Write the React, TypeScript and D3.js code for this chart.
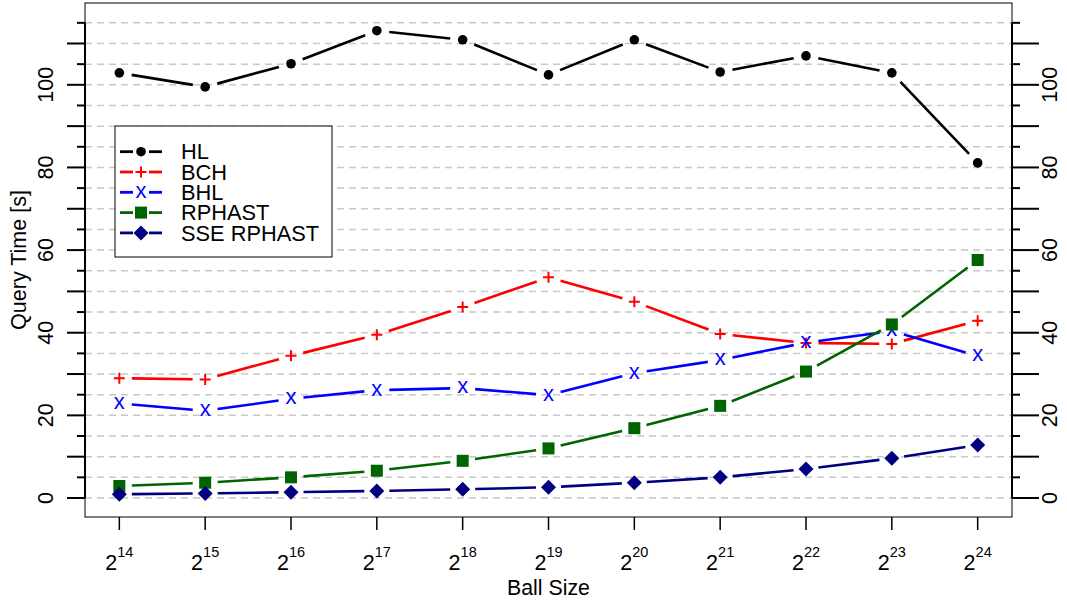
import React from "react";
import * as d3 from "d3";

const exponents = [14, 15, 16, 17, 18, 19, 20, 21, 22, 23, 24];
const hl = [102.9, 99.5, 105.1, 113.1, 110.9, 102.4, 110.9, 103.1, 107.0, 102.9, 81.1];
const bch = [29.0, 28.7, 34.4, 39.5, 46.2, 53.4, 47.5, 39.7, 37.5, 37.3, 42.9];
const bhl = [22.9, 21.1, 24.0, 26.1, 26.6, 24.9, 30.2, 33.4, 37.6, 40.4, 34.4];
const rphast = [2.9, 3.7, 5.0, 6.6, 9.0, 12.0, 16.9, 22.3, 30.6, 42.0, 57.6];
const sseRphast = [0.9, 1.1, 1.4, 1.7, 2.1, 2.6, 3.7, 5.0, 7.0, 9.6, 12.8];

const seriesNames = ["HL", "BCH", "BHL", "RPHAST", "SSE RPHAST"];
const seriesColors = ["#000000", "#ff0000", "#0000ff", "#006400", "#000080"];
const seriesShapes = ["circle", "plus", "x", "square", "diamond"];
const seriesValues = [hl, bch, bhl, rphast, sseRphast];

const yMajorTicks = [0, 20, 40, 60, 80, 100];
const yAllTicks = d3.range(0, 116, 5);

const W = 1067;
const H = 603;
const L = 85, R = 1012, T = 3, B = 517;
const FONT = "'Liberation Sans', Arial, Helvetica, sans-serif";

function Marker({ shape, x, y, color }: { shape: string; x: number; y: number; color: string }) {
  if (shape === "circle") return <circle cx={x} cy={y} r={4.8} fill={color} />;
  if (shape === "plus")
    return (
      <path d={`M${x - 5.5},${y}H${x + 5.5}M${x},${y - 5.5}V${y + 5.5}`} stroke={color} strokeWidth={2} fill="none" />
    );
  if (shape === "x")
    return (
      <text x={x} y={y + 5.4} textAnchor="middle" fontFamily={FONT} fontSize={22} fill={color}>
        x
      </text>
    );
  if (shape === "square") return <rect x={x - 6} y={y - 6} width={12} height={12} fill={color} />;
  return <path d={`M${x},${y - 7.5}L${x + 7.5},${y}L${x},${y + 7.5}L${x - 7.5},${y}Z`} fill={color} />;
}

function gapSegments(pts: [number, number][], gap: number) {
  const segs: string[] = [];
  for (let i = 0; i < pts.length - 1; i++) {
    const [x0, y0] = pts[i];
    const [x1, y1] = pts[i + 1];
    const dx = x1 - x0, dy = y1 - y0;
    const len = Math.hypot(dx, dy);
    if (len <= 2 * gap) continue;
    const ux = dx / len, uy = dy / len;
    segs.push(`M${x0 + ux * gap},${y0 + uy * gap}L${x1 - ux * gap},${y1 - uy * gap}`);
  }
  return segs.join("");
}

export default function App() {
  const x = d3.scaleLinear().domain([-0.4, exponents.length - 1 + 0.4]).range([L, R]);
  const y = d3.scaleLinear().domain([-4.6, 119.8]).range([B, T]);

  const legendX = 115, legendY = 126, legendW = 217, legendH = 131;
  const legendRow0 = 151.7, legendStep = 20.3;

  return (
    <svg width={W} height={H} style={{ position: "absolute", left: 0, top: 0, background: "#fff" }}>
      {/* grid */}
      {yAllTicks.map((v) => (
        <line key={"g" + v} x1={L} x2={R} y1={y(v)} y2={y(v)} stroke="#c8c8c8" strokeWidth={1.5} strokeDasharray="7,5" />
      ))}
      {/* box */}
      <rect x={L} y={T} width={R - L} height={B - T} fill="none" stroke="#000" strokeWidth={1} />
      {/* left axis */}
      <line x1={L} x2={L} y1={y(0)} y2={y(115)} stroke="#000" strokeWidth={2} />
      {yAllTicks.map((v) => (
        <line key={"lt" + v} x1={v % 10 === 0 ? L - 18 : L - 8} x2={L} y1={y(v)} y2={y(v)} stroke="#000" strokeWidth={2} />
      ))}
      {yMajorTicks.map((v) => (
        <text key={"ll" + v} transform={`translate(53,${y(v)}) rotate(-90)`} textAnchor="middle" fontFamily={FONT} fontSize={21.5}>
          {v}
        </text>
      ))}
      {/* right axis */}
      <line x1={R} x2={R} y1={y(0)} y2={y(115)} stroke="#000" strokeWidth={2} />
      {yAllTicks.map((v) => (
        <line key={"rt" + v} x1={R} x2={v % 10 === 0 ? R + 27 : R + 8} y1={y(v)} y2={y(v)} stroke="#000" strokeWidth={2} />
      ))}
      {yMajorTicks.map((v) => (
        <text key={"rl" + v} transform={`translate(1057,${y(v)}) rotate(-90)`} textAnchor="middle" fontFamily={FONT} fontSize={21.5}>
          {v}
        </text>
      ))}
      {/* x axis */}
      {exponents.map((e, i) => (
        <g key={"xt" + e}>
          <line x1={x(i)} x2={x(i)} y1={B} y2={B + 13} stroke="#000" strokeWidth={1.5} />
          <text x={x(i)} y={570} textAnchor="middle" fontFamily={FONT} fontSize={21.5}>
            2<tspan dy={-13} fontSize={14.5}>{e}</tspan>
          </text>
        </g>
      ))}
      <text x={(L + R) / 2} y={595} textAnchor="middle" fontFamily={FONT} fontSize={21.3}>
        Ball Size
      </text>
      <text transform={`translate(26,${(T + B) / 2}) rotate(-90)`} textAnchor="middle" fontFamily={FONT} fontSize={21.5}>
        Query Time [s]
      </text>
      {/* series */}
      {seriesValues.map((vals, si) => {
        const pts = vals.map((v, i) => [x(i), y(v)] as [number, number]);
        return (
          <g key={"s" + si}>
            <path d={gapSegments(pts, 12.5)} stroke={seriesColors[si]} strokeWidth={2.6} fill="none" />
            {pts.map((p, i) => (
              <Marker key={i} shape={seriesShapes[si]} x={p[0]} y={p[1]} color={seriesColors[si]} />
            ))}
          </g>
        );
      })}
      {/* legend */}
      <rect x={legendX} y={legendY} width={legendW} height={legendH} fill="#fff" stroke="#000" strokeWidth={1} />
      {seriesNames.map((n, si) => {
        const ly = legendRow0 + si * legendStep;
        return (
          <g key={"lg" + n}>
            <line x1={120} x2={133} y1={ly} y2={ly} stroke={seriesColors[si]} strokeWidth={2.8} />
            <line x1={149} x2={162} y1={ly} y2={ly} stroke={seriesColors[si]} strokeWidth={2.8} />
            <Marker shape={seriesShapes[si]} x={141} y={ly} color={seriesColors[si]} />
            <text x={181} y={ly + 7.6} fontFamily={FONT} fontSize={21.8}>
              {n}
            </text>
          </g>
        );
      })}
    </svg>
  );
}
